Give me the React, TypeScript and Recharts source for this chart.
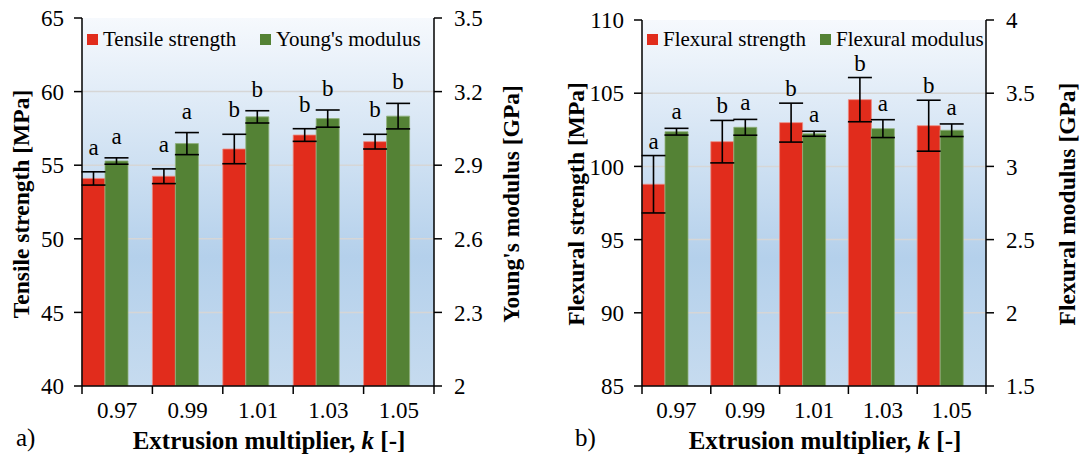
import React from "react"
import { ComposedChart, Bar, XAxis, YAxis, CartesianGrid, ErrorBar } from "recharts"

const categories = ["0.97", "0.99", "1.01", "1.03", "1.05"]

const tensile = [54.1, 54.25, 56.1, 57.05, 56.6]
const tensileErr = [0.45, 0.5, 1.0, 0.43, 0.5]
const tensileLetters = ["a", "a", "b", "b", "b"]
const young = [2.917, 2.988, 3.097, 3.09, 3.1]
const youngErr = [0.013, 0.045, 0.025, 0.035, 0.052]
const youngLetters = ["a", "a", "b", "b", "b"]

const flexStr = [98.78, 101.69, 102.99, 104.56, 102.78]
const flexStrErr = [1.96, 1.45, 1.33, 1.51, 1.74]
const flexStrLetters = ["a", "b", "b", "b", "b"]
const flexMod = [3.237, 3.267, 3.223, 3.258, 3.247]
const flexModErr = [0.023, 0.054, 0.017, 0.061, 0.043]
const flexModLetters = ["a", "a", "a", "a", "a"]

const tensileTicks = [40, 45, 50, 55, 60, 65]
const youngTicks = [2, 2.3, 2.6, 2.9, 3.2, 3.5]
const flexStrTicks = [85, 90, 95, 100, 105, 110]
const flexModTicks = [1.5, 2, 2.5, 3, 3.5, 4]

const RED = "#e12c1c"
const GREEN = "#548235"
const FONT = "'Liberation Serif', 'Times New Roman', serif"

const makeLetter = (letters: string[], errs: number[], min: number, gap: number) => (p: any) => {
  const { x, y, width, height, index, value } = p
  const px = height / (value - min)
  const top = y - errs[index] * px
  return (
    <text x={x + width / 2} y={top - gap} textAnchor="middle" fontSize={23} fontFamily={FONT} fill="#000">
      {letters[index]}
    </text>
  )
}

const XTick = (p: any) => {
  const { x, y, payload, index, width, visibleTicksCount } = p
  const bw = width / visibleTicksCount
  return (
    <g>
      <line x1={x - bw / 2} x2={x - bw / 2} y1={y} y2={y + 8} stroke="#000" strokeWidth={1.5} />
      {index === visibleTicksCount - 1 && (
        <line x1={x + bw / 2} x2={x + bw / 2} y1={y} y2={y + 8} stroke="#000" strokeWidth={1.5} />
      )}
      <text x={x} y={y + 32} textAnchor="middle" fontSize={23} fontFamily={FONT} fill="#000">
        {payload.value}
      </text>
    </g>
  )
}

type PanelProps = {
  id: string
  left: number
  width: number
  top: number
  leftW: number
  rightW: number
  s1: number[]
  e1: number[]
  l1: string[]
  s2: number[]
  e2: number[]
  l2: string[]
  t1: number[]
  t2: number[]
  name1: string
  name2: string
  title1: string
  title2: string
  tag: string
  tagX: number
  title1X: number
  title2X: number
  leg2X: number
  gap1: number
  gap2: number
}

function Panel(pr: PanelProps) {
  const data = categories.map((c, i) => ({
    cat: c,
    v1: pr.s1[i],
    err1: pr.e1[i],
    v2: pr.s2[i],
    err2: pr.e2[i],
  }))
  const tickStyle = { fontSize: 23, fill: "#000", fontFamily: FONT }
  const title: React.CSSProperties = {
    position: "absolute",
    fontFamily: FONT,
    fontWeight: "bold",
    fontSize: 23.5,
    whiteSpace: "nowrap",
    lineHeight: 1,
  }
  const legText: React.CSSProperties = {
    position: "absolute",
    fontFamily: FONT,
    fontSize: 21,
    lineHeight: 1,
    whiteSpace: "nowrap",
    top: 29,
  }
  return (
    <div style={{ position: "absolute", left: pr.left, top: 0, width: pr.width, height: 456 }}>
      <ComposedChart
        width={pr.width}
        height={456}
        data={data}
        margin={{ top: pr.top, right: 0, bottom: 0, left: 0 }}
        barCategoryGap={0}
        barGap={0}
      >
        <defs>
          <linearGradient id={"bg" + pr.id} x1="0" y1="0" x2="0" y2="1">
            <stop offset="0%" stopColor="#f6f9fd" />
            <stop offset="65%" stopColor="#b4d0eb" />
            <stop offset="100%" stopColor="#c6dbef" />
          </linearGradient>
        </defs>
        <CartesianGrid
          yAxisId="a"
          vertical={false}
          horizontalValues={pr.t1.slice(1, -1)}
          stroke="#d6d6d6"
          strokeWidth={1.5}
          fill={`url(#bg${pr.id})`}
          fillOpacity={1}
        />
        <XAxis
          dataKey="cat"
          height={70}
          axisLine={{ stroke: "#000", strokeWidth: 1.5 }}
          tickLine={false}
          tickSize={0}
          tickMargin={0}
          tick={<XTick />}
          interval={0}
        />
        <YAxis
          yAxisId="a"
          orientation="left"
          width={pr.leftW}
          domain={[pr.t1[0], pr.t1[pr.t1.length - 1]]}
          ticks={pr.t1}
          allowDataOverflow
          axisLine={{ stroke: "#000", strokeWidth: 1.5 }}
          tickLine={{ stroke: "#000", strokeWidth: 1.5 }}
          tickSize={8}
          tickMargin={10}
          tick={tickStyle}
        />
        <YAxis
          yAxisId="b"
          orientation="right"
          width={pr.rightW}
          domain={[pr.t2[0], pr.t2[pr.t2.length - 1]]}
          ticks={pr.t2}
          allowDataOverflow
          axisLine={{ stroke: "#000", strokeWidth: 1.5 }}
          tickLine={{ stroke: "#000", strokeWidth: 1.5 }}
          tickSize={8}
          tickMargin={12}
          tick={tickStyle}
        />
        <Bar
          yAxisId="a"
          dataKey="v1"
          fill={RED}
          stroke="#ec8a80"
          strokeWidth={0.8}
          isAnimationActive={false}
          label={makeLetter(pr.l1, pr.e1, pr.t1[0], pr.gap1)}
        >
          <ErrorBar dataKey="err1" width={12} stroke="#000" strokeWidth={1.6} />
        </Bar>
        <Bar
          yAxisId="b"
          dataKey="v2"
          fill={GREEN}
          stroke="#8fb07a"
          strokeWidth={0.8}
          isAnimationActive={false}
          label={makeLetter(pr.l2, pr.e2, pr.t2[0], pr.gap2)}
        >
          <ErrorBar dataKey="err2" width={12} stroke="#000" strokeWidth={1.6} />
        </Bar>
        <Bar yAxisId="a" dataKey="none" fill="none" isAnimationActive={false} />
      </ComposedChart>

      <div style={{ position: "absolute", left: pr.leftW + 5, top: 34, width: 11, height: 11, background: RED }} />
      <div style={{ ...legText, left: pr.leftW + 21 }}>{pr.name1}</div>
      <div style={{ position: "absolute", left: pr.leg2X, top: 34, width: 11, height: 11, background: GREEN }} />
      <div style={{ ...legText, left: pr.leg2X + 16 }}>{pr.name2}</div>

      <div style={{ ...title, left: pr.title1X, top: 204, transform: "translate(-50%, -50%) rotate(-90deg)" }}>
        {pr.title1}
      </div>
      <div style={{ ...title, left: pr.title2X, top: 204, transform: "translate(-50%, -50%) rotate(-90deg)" }}>
        {pr.title2}
      </div>
      <div
        style={{
          ...title,
          fontSize: 25,
          left: pr.leftW + (pr.width - pr.leftW - pr.rightW) / 2 + 11,
          top: 440,
          transform: "translate(-50%, -50%)",
        }}
      >
        Extrusion multiplier, <i>k</i> [-]
      </div>
      <div style={{ ...title, fontWeight: "normal", left: pr.tagX, top: 425, fontSize: 25 }}>{pr.tag}</div>
    </div>
  )
}

export default function App() {
  return (
    <div style={{ position: "absolute", left: 0, top: 0, width: 1083, height: 456, background: "#fff" }}>
      <Panel
        id="a"
        left={0}
        width={541}
        top={18}
        leftW={82}
        rightW={107}
        s1={tensile}
        e1={tensileErr}
        l1={tensileLetters}
        s2={young}
        e2={youngErr}
        l2={youngLetters}
        t1={tensileTicks}
        t2={youngTicks}
        name1="Tensile strength"
        name2="Young's modulus"
        title1="Tensile strength [MPa]"
        title2="Young's modulus [GPa]"
        tag="a)"
        tagX={16}
        title1X={22}
        title2X={512}
        leg2X={260}
        gap1={17}
        gap2={14}
      />
      <Panel
        id="b"
        left={541}
        width={542}
        top={20}
        leftW={101}
        rightW={97}
        s1={flexStr}
        e1={flexStrErr}
        l1={flexStrLetters}
        s2={flexMod}
        e2={flexModErr}
        l2={flexModLetters}
        t1={flexStrTicks}
        t2={flexModTicks}
        name1="Flexural strength"
        name2="Flexural modulus"
        title1="Flexural strength [MPa]"
        title2="Flexural modulus [GPa]"
        tag="b)"
        tagX={34}
        title1X={36}
        title2X={527}
        leg2X={279}
        gap1={7}
        gap2={9}
      />
    </div>
  )
}
